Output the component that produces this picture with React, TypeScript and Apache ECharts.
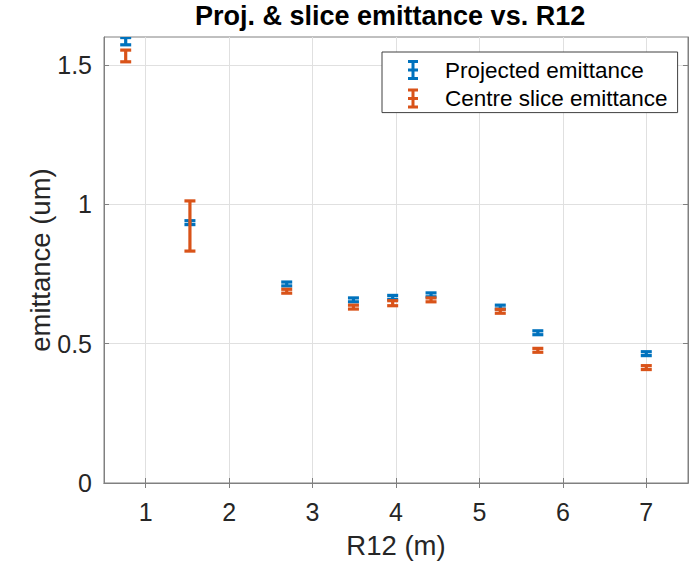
import React, { useEffect, useRef } from 'react';
import * as echarts from 'echarts';

const FONT = '"Liberation Sans", Arial, Helvetica, sans-serif';

const r12 = [0.76, 1.53, 2.69, 3.49, 3.96, 4.42, 5.25, 5.70, 7.00];
const projected = [1.585, 0.934, 0.714, 0.657, 0.666, 0.675, 0.631, 0.539, 0.464];
const projectedErr = [0.013, 0.007, 0.007, 0.007, 0.007, 0.007, 0.007, 0.007, 0.007];
const slice = [1.532, 0.922, 0.688, 0.631, 0.645, 0.657, 0.616, 0.476, 0.414];
const sliceErr = [0.021, 0.090, 0.007, 0.007, 0.009, 0.007, 0.007, 0.007, 0.007];
const xTicks = [1, 2, 3, 4, 5, 6, 7];
const yTicks = [0, 0.5, 1, 1.5];

const BLUE = '#0072BD';
const ORANGE = '#D95319';
const AXIS = '#808080';
const GRID = '#e0e0e0';
const ICON = 'path://M0,0H10V3H6.5V8.5H10V11.5H6.5V17H10V20H0V17H3.5V11.5H0V8.5H3.5V3H0Z';

const toData = (ys: number[], errs: number[]) =>
  r12.map((x, i) => [x, ys[i], ys[i] - errs[i], ys[i] + errs[i]]);

const makeRender = (color: string) => (_params: any, api: any) => {
  const x = api.value(0);
  const a = api.coord([x, api.value(2)]);
  const b = api.coord([x, api.value(3)]);
  const hw = 5.5;
  const style = { stroke: color, lineWidth: 3.2, fill: 'none' };
  return {
    type: 'group',
    children: [
      { type: 'line', shape: { x1: a[0], y1: a[1], x2: b[0], y2: b[1] }, style },
      { type: 'line', shape: { x1: a[0] - hw, y1: a[1], x2: a[0] + hw, y2: a[1] }, style },
      { type: 'line', shape: { x1: b[0] - hw, y1: b[1], x2: b[0] + hw, y2: b[1] }, style },
    ],
  };
};

export default function App() {
  const ref = useRef<HTMLDivElement>(null);
  useEffect(() => {
    if (!ref.current) return;
    const chart = echarts.init(ref.current, undefined, { renderer: 'svg' });
    const tickBase = { inside: true, length: 5, lineStyle: { color: AXIS, width: 1 } };
    chart.setOption({
      animation: false,
      backgroundColor: '#fff',
      title: {
        text: 'Proj. & slice emittance vs. R12',
        left: 190,
        top: -3,
        textStyle: { fontSize: 27, fontWeight: 'bold', color: '#000', fontFamily: FONT },
      },
      legend: {
        orient: 'vertical',
        left: 382,
        top: 52,
        padding: [6, 10, 2, 26],
        itemWidth: 54,
        itemHeight: 20,
        itemGap: 4.6,
        selectedMode: false,
        backgroundColor: '#fff',
        borderColor: '#404040',
        borderWidth: 1,
        textStyle: { fontSize: 22.5, color: '#000', fontFamily: FONT, lineHeight: 24 },
        data: [
          { name: 'Projected emittance', icon: ICON },
          { name: 'Centre slice emittance', icon: ICON },
        ],
      },
      grid: {
        left: 104,
        top: 37,
        right: 12,
        bottom: 80,
        show: true,
        borderColor: AXIS,
        borderWidth: 1,
        containLabel: false,
        outerBoundsMode: 'none',
      },
      xAxis: [
        {
          type: 'value',
          position: 'bottom',
          min: 0.5,
          max: 7.5,
          axisLine: { show: true, lineStyle: { color: AXIS, width: 1 } },
          axisTick: { ...tickBase, customValues: xTicks },
          axisLabel: { customValues: xTicks, fontSize: 25, color: '#262626', margin: 16, fontFamily: FONT },
          splitLine: { show: true, lineStyle: { color: GRID, width: 1 } },
          name: 'R12 (m)',
          nameLocation: 'middle',
          nameGap: 48,
          nameTextStyle: { fontSize: 27.5, color: '#262626', fontFamily: FONT },
        },
        {
          type: 'value',
          position: 'top',
          min: 0.5,
          max: 7.5,
          axisLine: { show: true, lineStyle: { color: AXIS, width: 1 } },
          axisTick: { ...tickBase, customValues: xTicks },
          axisLabel: { show: false },
          splitLine: { show: false },
        },
      ],
      yAxis: [
        {
          type: 'value',
          position: 'left',
          min: 0,
          max: 1.6,
          axisLine: { show: true, lineStyle: { color: AXIS, width: 1 } },
          axisTick: { ...tickBase, customValues: yTicks },
          axisLabel: { customValues: yTicks, fontSize: 25, color: '#262626', margin: 12, fontFamily: FONT },
          splitLine: { show: true, lineStyle: { color: GRID, width: 1 } },
          name: 'emittance (um)',
          nameLocation: 'middle',
          nameGap: 50,
          nameMoveOverlap: false,
          nameTextStyle: { fontSize: 27.5, color: '#262626', fontFamily: FONT },
        },
        {
          type: 'value',
          position: 'right',
          min: 0,
          max: 1.6,
          axisLine: { show: true, lineStyle: { color: AXIS, width: 1 } },
          axisTick: { ...tickBase, customValues: yTicks },
          axisLabel: { show: false },
          splitLine: { show: false },
        },
      ],
      series: [
        {
          name: 'Projected emittance',
          type: 'custom',
          xAxisIndex: 0,
          yAxisIndex: 0,
          clip: true,
          itemStyle: { color: BLUE },
          encode: { x: 0, y: 1 },
          renderItem: makeRender(BLUE),
          data: toData(projected, projectedErr),
        },
        {
          name: 'Centre slice emittance',
          type: 'custom',
          xAxisIndex: 0,
          yAxisIndex: 0,
          clip: true,
          itemStyle: { color: ORANGE },
          encode: { x: 0, y: 1 },
          renderItem: makeRender(ORANGE),
          data: toData(slice, sliceErr),
        },
      ],
    });
    return () => chart.dispose();
  }, []);
  return (
    <div
      ref={ref}
      style={{ position: 'fixed', left: 0, top: 0, width: 700, height: 563, background: '#fff' }}
    />
  );
}
